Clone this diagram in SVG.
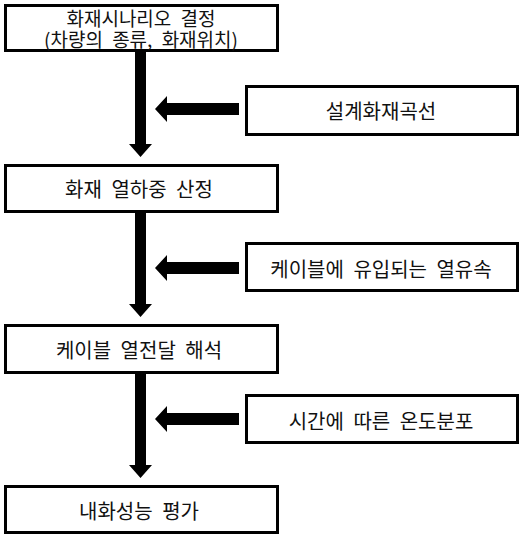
<svg xmlns="http://www.w3.org/2000/svg" width="523" height="539" viewBox="0 0 523 539">
<style>
.box{fill:#fff;stroke:#000;stroke-width:3}
.t{font-family:"Noto Sans CJK KR","Noto Sans",sans-serif;font-size:20px;fill:#111;text-anchor:middle;dominant-baseline:central;word-spacing:5px}
.s{font-size:19px}
.arr{fill:#000}
</style>
<rect width="523" height="539" fill="#fff"/>
<g id="connectors">
<polygon class="arr" points="135,52 146,52 146,144 152,144 140.5,157 129,144 135,144"/>
<polygon class="arr" points="135,213 146,213 146,304 152,304 140.5,317 129,304 135,304"/>
<polygon class="arr" points="135,374 146,374 146,465 152,465 140.5,478 129,465 135,465"/>
<polygon class="arr" points="239,103 239,115 167,115 167,122 155,109 167,96 167,103"/>
<polygon class="arr" points="239,262 239,274 167,274 167,281 155,268 167,255 167,262"/>
<polygon class="arr" points="239,413 239,425 167,425 167,432 155,419 167,406 167,413"/>
</g>
<g id="n1"><rect class="box" x="5.5" y="5.5" width="272" height="45"/><text class="t s"><tspan x="141" y="17">화재시나리오 결정</tspan><tspan x="141" y="38">(차량의 종류, 화재위치)</tspan></text></g>
<g id="n2"><rect class="box" x="5.5" y="165.5" width="272" height="46"/><text class="t" x="139" y="188">화재 열하중 산정</text></g>
<g id="n3"><rect class="box" x="5.5" y="325.5" width="272" height="47"/><text class="t" x="139" y="349">케이블 열전달 해석</text></g>
<g id="n4"><rect class="box" x="5.5" y="486.5" width="272" height="46"/><text class="t" x="139" y="510">내화성능 평가</text></g>
<g id="r1"><rect class="box" x="246.5" y="86.5" width="271" height="48"/><text class="t" x="381" y="110">설계화재곡선</text></g>
<g id="r2"><rect class="box" x="246.5" y="243.5" width="271" height="47"/><text class="t" x="381" y="268">케이블에 유입되는 열유속</text></g>
<g id="r3"><rect class="box" x="246.5" y="395.5" width="271" height="47"/><text class="t" x="381" y="420">시간에 따른 온도분포</text></g>
</svg>
